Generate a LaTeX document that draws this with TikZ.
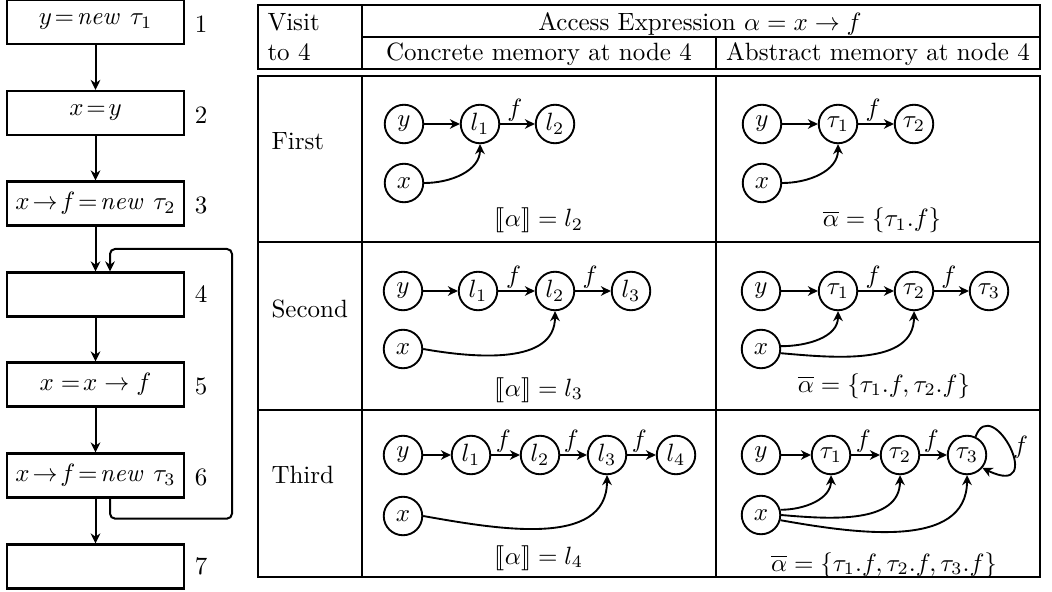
\documentclass[tikz,border=0pt]{standalone}
\usepackage{amsmath}
\usepackage{stmaryrd}
\usetikzlibrary{arrows.meta}
\begin{document}
\begin{tikzpicture}[x=0.4pt,y=-0.4pt,
  tip/.style={-{Stealth[length=4pt,width=3.9pt,inset=1.3pt]}},
  cell/.style={circle,draw,line width=0.75pt,minimum size=15.4pt,inner sep=0pt},
  fbox/.style={draw,line width=0.9pt,minimum width=70.8pt,minimum height=17.6pt,inner sep=0pt},
  rule/.style={line width=0.95pt,line cap=rect},
  edge/.style={tip,line width=0.75pt},
  flow/.style={tip,line width=0.8pt},
  flab/.style={pos=0.42,above,inner sep=0.8pt}
]
\useasboundingbox (0,0) rectangle (1052,592);

% ---------------- flowchart ----------------
\node[fbox] (b1) at (95.5,22) {$y\!=\!\mathit{new}\ \tau_1$};
\node[fbox] (b2) at (95.5,113) {$x\!=\!y$};
\node[fbox] (b3) at (95.5,203.5) {$x\!\rightarrow\! f\!=\!\mathit{new}\ \tau_2$};
\node[fbox] (b4) at (95.5,294.5) {};
\node[fbox] (b5) at (95.5,384.5) {$x =\!x \rightarrow f$};
\node[fbox] (b6) at (95.5,475.5) {$x\!\rightarrow\! f\!=\!\mathit{new}\ \tau_3$};
\node[fbox] (b7) at (95.5,566.5) {};
\node (n1) at (201,24) {1};
\node (n2) at (201,115) {2};
\node (n3) at (201,205) {3};
\node (n4) at (201,294) {4};
\node (n5) at (201,386) {5};
\node (n6) at (201,477) {6};
\node (n7) at (201,566) {7};
\draw[flow] (b1.south) -- (b2.north);
\draw[flow] (b2.south) -- (b3.north);
\draw[flow] (b3.south) -- (b4.north);
\draw[flow] (b4.south) -- (b5.north);
\draw[flow] (b5.south) -- (b6.north);
\draw[flow] (b6.south) -- (b7.north);
\coordinate (lc) at (232,249);
\draw[flow,rounded corners=2pt] ([xshift=5.8pt]b6.south) -- ++(0,20) -| (lc) -| ([xshift=5.8pt]b4.north);

% ---------------- table rules ----------------
\draw[rule] (258,5) -- (1040,5);
\draw[rule] (362,37) -- (1040,37);
\draw[rule] (258,69) -- (1040,69);
\draw[rule] (258,76) -- (1040,76);
\draw[rule] (258,242) -- (1040,242);
\draw[rule] (258,410) -- (1040,410);
\draw[rule] (258,577) -- (1040,577);
\draw[rule] (258,5) -- (258,69);
\draw[rule] (258,76) -- (258,577);
\draw[rule] (362,5) -- (362,69);
\draw[rule] (362,76) -- (362,577);
\draw[rule] (716,37) -- (716,69);
\draw[rule] (716,76) -- (716,577);
\draw[rule] (1040,5) -- (1040,69);
\draw[rule] (1040,76) -- (1040,577);

% ---------------- header ----------------
\node[anchor=base west,inner sep=0pt] (hvisit) at (267,31) {Visit};
\node[anchor=base west,inner sep=0pt] (hto) at (267,61) {to 4};
\node[anchor=base,inner sep=0pt] (hacc) at (700,31) {Access Expression $\alpha = x \rightarrow f$};
\node[anchor=base,inner sep=0pt] (hcon) at (539,61) {Concrete memory at node 4};
\node[anchor=base,inner sep=0pt] (habs) at (878,61) {Abstract memory at node 4};
\node[anchor=base west,inner sep=0pt] (r1) at (271,150) {First};
\node[anchor=base west,inner sep=0pt] (r2) at (271,317) {Second};
\node[anchor=base west,inner sep=0pt] (r3) at (271,483) {Third};

% ---------------- row 1 concrete ----------------
\node[cell] (c1y) at (404,124) {$y$};
\node[cell] (c1a) at (480,124) {$l_1$};
\node[cell] (c1b) at (555,124) {$l_2$};
\node[cell] (c1x) at (404,183) {$x$};
\draw[edge] (c1y) -- (c1a);
\draw[edge] (c1a) -- node[flab]{$f$} (c1b);
\draw[edge] (c1x.east) to[out=0,in=-90] (c1a.south);
\node[anchor=base,inner sep=0pt] (c1lab) at (539,227) {$\llbracket\alpha\rrbracket = l_2$};

% ---------------- row 1 abstract ----------------
\node[cell] (a1y) at (762,124) {$y$};
\node[cell] (a1a) at (838,124) {$\tau_1$};
\node[cell] (a1b) at (914,124) {$\tau_2$};
\node[cell] (a1x) at (762,183) {$x$};
\draw[edge] (a1y) -- (a1a);
\draw[edge] (a1a) -- node[flab]{$f$} (a1b);
\draw[edge] (a1x.east) to[out=0,in=-90] (a1a.south);
\node[anchor=base,inner sep=0pt] (a1lab) at (882,227) {$\overline{\alpha} = \{\tau_1.f\}$};

% ---------------- row 2 concrete ----------------
\node[cell] (c2y) at (403,291) {$y$};
\node[cell] (c2a) at (478,291) {$l_1$};
\node[cell] (c2b) at (555,291) {$l_2$};
\node[cell] (c2c) at (631,291) {$l_3$};
\node[cell] (c2x) at (403,349) {$x$};
\draw[edge] (c2y) -- (c2a);
\draw[edge] (c2a) -- node[flab]{$f$} (c2b);
\draw[edge] (c2b) -- node[flab]{$f$} (c2c);
\draw[edge] (c2x.east) to[out=-10,in=-90] (c2b.south);
\node[anchor=base,inner sep=0pt] (c2lab) at (539,396) {$\llbracket\alpha\rrbracket = l_3$};

% ---------------- row 2 abstract ----------------
\node[cell] (a2y) at (761,291) {$y$};
\node[cell] (a2a) at (838,291) {$\tau_1$};
\node[cell] (a2b) at (914,291) {$\tau_2$};
\node[cell] (a2c) at (989,291) {$\tau_3$};
\node[cell] (a2x) at (761,349) {$x$};
\draw[edge] (a2y) -- (a2a);
\draw[edge] (a2a) -- node[flab]{$f$} (a2b);
\draw[edge] (a2b) -- node[flab]{$f$} (a2c);
\draw[edge] (a2x.8) to[out=0,in=-90] (a2a.south);
\draw[edge] (a2x.-12) to[out=-5,in=-90] (a2b.south);
\node[anchor=base,inner sep=0pt] (a2lab) at (884,392) {$\overline{\alpha} = \{\tau_1.f, \tau_2.f\}$};

% ---------------- row 3 concrete ----------------
\node[cell] (c3y) at (403,455) {$y$};
\node[cell] (c3a) at (471,455) {$l_1$};
\node[cell] (c3b) at (540,455) {$l_2$};
\node[cell] (c3c) at (607,455) {$l_3$};
\node[cell] (c3d) at (676,455) {$l_4$};
\node[cell] (c3x) at (403,516) {$x$};
\draw[edge] (c3y) -- (c3a);
\draw[edge] (c3a) -- node[flab]{$f$} (c3b);
\draw[edge] (c3b) -- node[flab]{$f$} (c3c);
\draw[edge] (c3c) -- node[flab]{$f$} (c3d);
\draw[edge] (c3x.east) to[out=-10,in=-90] (c3c.south);
\node[anchor=base,inner sep=0pt] (c3lab) at (539,564) {$\llbracket\alpha\rrbracket = l_4$};

% ---------------- row 3 abstract ----------------
\node[cell] (a3y) at (761,455) {$y$};
\node[cell] (a3a) at (831,455) {$\tau_1$};
\node[cell] (a3b) at (900,455) {$\tau_2$};
\node[cell] (a3c) at (967,455) {$\tau_3$};
\node[cell] (a3x) at (761,515) {$x$};
\draw[edge] (a3y) -- (a3a);
\draw[edge] (a3a) -- node[flab]{$f$} (a3b);
\draw[edge] (a3b) -- node[flab]{$f$} (a3c);
\draw[edge] (a3x.15) to[out=0,in=-90] (a3a.south);
\draw[edge] (a3x.0) to[out=-5,in=-90] (a3b.south);
\draw[edge] (a3x.-15) to[out=-10,in=-90] (a3c.south);
\draw[edge] (a3c.65) .. controls (992,392) and (1048,500) .. node[pos=0.5,right,inner sep=1pt] (lf) {$f$} (a3c.-40);
\node[anchor=base,inner sep=0pt] (a3lab) at (884,571) {$\overline{\alpha} = \{\tau_1.f, \tau_2.f, \tau_3.f\}$};
\end{tikzpicture}
\end{document}
